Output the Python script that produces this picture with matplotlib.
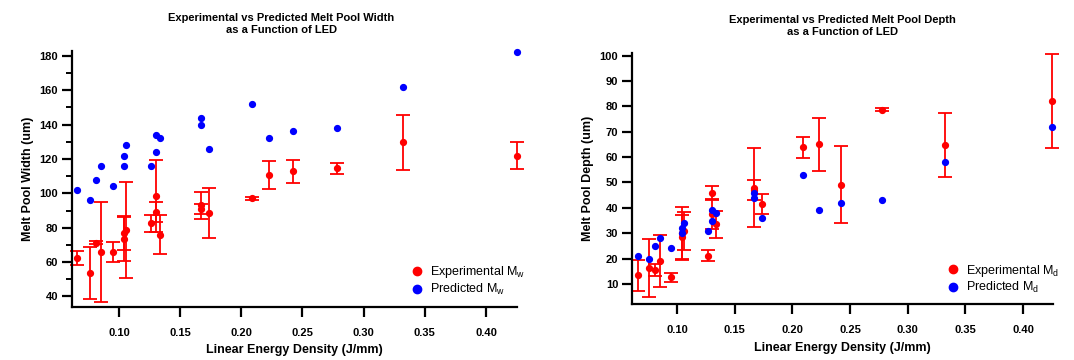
import numpy as np
import matplotlib
matplotlib.use("Agg")
import matplotlib.pyplot as plt
from matplotlib.ticker import MultipleLocator
from matplotlib.lines import Line2D

plt.rcParams['font.family'] = ['Liberation Sans', 'DejaVu Sans']
plt.rcParams['mathtext.default'] = 'regular'

# linear energy density of each track (J/mm)
led = [0.066, 0.076, 0.081, 0.085, 0.095, 0.104, 0.104, 0.106, 0.1265, 0.130, 0.130,
       0.1335, 0.167, 0.167, 0.1735, 0.209, 0.223, 0.242, 0.278, 0.332, 0.425]

# melt pool width (um)
width_exp = [62.3, 53.6, 71.2, 65.8, 66.0, 73.5, 77.0, 78.5, 82.5, 98.6, 89.1,
             76.0, 93.0, 91.0, 88.7, 97.0, 110.8, 112.9, 114.7, 129.6, 122.0]
width_err = [4.0, 15.3, 0.8, 29.0, 5.8, 13.0, 10.0, 28.0, 5.0, 21.0, 6.0,
             11.5, 8.0, 3.0, 14.5, 1.0, 8.2, 6.7, 3.2, 16.2, 7.6]
width_pred = [102, 96, 108, 116, 104, 122, 116, 128, 116, 134, 124,
              132, 144, 140, 126, 152, 132, 136, 138, 162, 182]

# melt pool depth (um)
depth_exp = [13.4, 16.2, 15.5, 19.0, 12.6, 28.5, 30.0, 31.0, 21.1, 46.0, 37.5,
             33.5, 48.0, 47.0, 41.6, 63.8, 65.0, 49.2, 78.6, 64.8, 82.2]
depth_err = [6.0, 11.5, 2.3, 10.3, 1.7, 8.5, 10.5, 7.5, 2.2, 2.8, 5.8,
             5.2, 15.7, 4.0, 4.0, 4.0, 10.5, 15.3, 0.6, 12.7, 18.5]
depth_pred = [21, 20, 25, 28, 24, 32, 30, 34, 31, 39, 35,
              38, 46, 44, 36, 53, 39, 42, 43, 58, 72]

RED = '#ff0000'
BLUE = '#0000ff'

fig = plt.figure(figsize=(10.74, 3.6), dpi=100)
ax1 = fig.add_axes([0.0670, 0.148, 0.4143, 0.711])
ax2 = fig.add_axes([0.5885, 0.1547, 0.392, 0.698])


def draw(ax, y_exp, y_err, y_pred, sub, leg_xy):
    ax.errorbar(led, y_exp, yerr=y_err, fmt='o', color=RED, ms=4.2,
                elinewidth=1.3, capsize=5, capthick=1.3, clip_on=False, zorder=2)
    ax.plot(led, y_pred, 'o', color=BLUE, ms=4.2, clip_on=False, zorder=3)
    for s in ['top', 'right']:
        ax.spines[s].set_visible(False)
    for s in ['left', 'bottom']:
        ax.spines[s].set_linewidth(1.6)
    ax.tick_params(which='major', direction='out', length=7, width=1.6, labelsize=8)
    ax.tick_params(axis='y', which='major', pad=3)
    ax.tick_params(axis='x', which='major', pad=8)
    ax.tick_params(which='minor', direction='out', length=4, width=1.4)
    ax.xaxis.set_major_locator(MultipleLocator(0.05))
    ax.xaxis.set_major_formatter(plt.FormatStrFormatter('%.2f'))
    ax.set_xlabel('Linear Energy Density (J/mm)', fontsize=9, fontweight='bold', labelpad=5)

    handles = [Line2D([], [], ls='none', marker='o', ms=6, color=RED),
               Line2D([], [], ls='none', marker='o', ms=6, color=BLUE)]
    labels = ['Experimental M$_{%s}$' % sub, 'Predicted M$_{%s}$' % sub]
    ax.legend(handles, labels, loc='center left', bbox_to_anchor=leg_xy,
              bbox_transform=fig.transFigure, frameon=False, fontsize=9,
              handlelength=1.0, handletextpad=0.5, borderpad=0,
              labelspacing=0.15, borderaxespad=0)


draw(ax1, width_exp, width_err, width_pred, 'w', (0.3827, 0.2208))
ax1.set_xlim(0.0616, 0.4253)
ax1.set_ylim(34, 183)
ax1.yaxis.set_major_locator(MultipleLocator(20))
ax1.yaxis.set_minor_locator(MultipleLocator(10))
ax1.set_ylabel('Melt Pool Width (um)', fontsize=9, fontweight='bold')
ax1.set_title('Experimental vs Predicted Melt Pool Width\nas a Function of LED',
              fontsize=8, fontweight='bold', x=0.47, pad=13)

draw(ax2, depth_exp, depth_err, depth_pred, 'd', (0.8817, 0.225))
ax2.set_xlim(0.061, 0.426)
ax2.set_ylim(2, 101)
ax2.yaxis.set_major_locator(MultipleLocator(10))
ax2.set_ylabel('Melt Pool Depth (um)', fontsize=9, fontweight='bold')
ax2.set_title('Experimental vs Predicted Melt Pool Depth\nas a Function of LED',
              fontsize=8, fontweight='bold', pad=13)

for ax in (ax1, ax2):
    for lab in ax.get_xticklabels() + ax.get_yticklabels():
        lab.set_fontweight('bold')

fig.savefig('out.png', dpi=100)
